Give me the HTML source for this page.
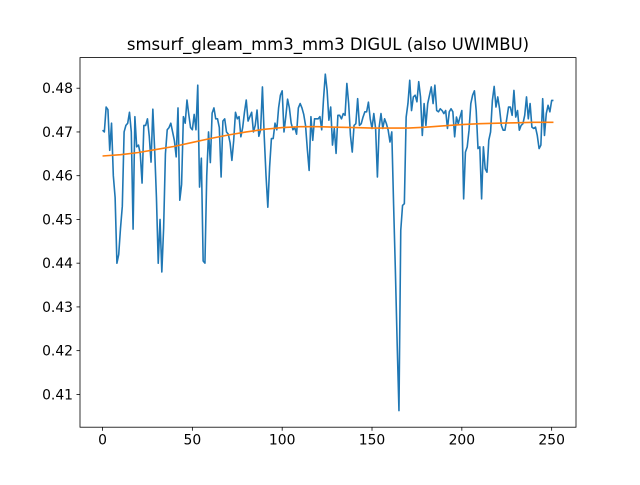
<!DOCTYPE html>
<html><head><meta charset="utf-8"><style>
body{margin:0;background:#fff;}
svg text{font-family:"DejaVu Sans","Liberation Sans",sans-serif;}
</style></head><body>
<svg id="chart" width="640" height="480" xmlns="http://www.w3.org/2000/svg">
<rect width="640" height="480" fill="#fff"/>
<text x="328" y="50" font-size="16.5" text-anchor="middle">smsurf_gleam_mm3_mm3 DIGUL (also UWIMBU)</text>
<g id="axes"></g>
</svg>
<script>
const values=[.4704,.4700,.4757,.4751,.4658,.4720,.4600,.4550,.4400,.4420,
.4480,.4530,.4700,.4715,.4720,.4745,.4700,.4478,.4735,.4666,
.4670,.4650,.4583,.4715,.4715,.4730,.4690,.4631,.4752,.4660,
.4550,.4400,.4500,.4380,.4480,.4650,.4705,.4710,.4720,.4700,
.4680,.4643,.4755,.4544,.4580,.4735,.4720,.4773,.4740,.4710,
.4705,.4740,.4705,.4807,.4574,.4640,.4405,.4400,.4600,.4700,
.4630,.4743,.4755,.4730,.4730,.4710,.4597,.4725,.4730,.4700,
.4695,.4675,.4635,.4680,.4745,.4730,.4735,.4689,.4710,.4745,
.4773,.4725,.4735,.4745,.4700,.4715,.4750,.4690,.4705,.4803,
.4690,.4600,.4528,.4620,.4685,.4685,.4720,.4705,.4755,.4784,
.4794,.4700,.4735,.4775,.4755,.4720,.4705,.4710,.4695,.4755,
.4765,.4755,.4740,.4715,.4660,.4612,.4735,.4681,.4730,.4730,
.4730,.4735,.4705,.4775,.4832,.4795,.4727,.4757,.4670,.4708,
.4651,.4738,.4738,.4730,.4742,.4738,.4811,.4765,.4692,.4654,
.4715,.4719,.4776,.4715,.4719,.4734,.4746,.4746,.4768,.4730,
.4708,.4742,.4708,.4597,.4712,.4742,.4708,.4730,.4719,.4704,
.4677,.4700,.4536,.4384,.4216,.4063,.4475,.4532,.4536,.4734,
.4765,.4818,.4749,.4780,.4784,.4769,.4815,.4780,.4692,.4765,
.4715,.4765,.4784,.4803,.4765,.4807,.4749,.4746,.4753,.4749,
.4742,.4749,.4708,.4746,.4753,.4746,.4689,.4734,.4719,.4734,
.4749,.4547,.4654,.4666,.4704,.4765,.4784,.4794,.4749,.4662,
.4666,.4547,.4666,.4616,.4608,.4681,.4700,.4772,.4804,.4757,
.4780,.4753,.4715,.4704,.4704,.4730,.4757,.4757,.4738,.4795,
.4734,.4749,.4704,.4715,.4719,.4738,.4780,.4730,.4765,.4711,
.4708,.4711,.4692,.4662,.4670,.4776,.4692,.4742,.4761,.4746,
.4772,.4772];
const trendX=[0,10,20,30,40,50,60,70,80,90,100,110,120,130,140,150,160,170,180,190,200,210,220,230,240,250,251];
const trendY=[.4645,.4648,.4653,.4660,.4667,.4676,.4685,.4693,.4700,.4706,.4710,.4712,.4712,.4711,.4710,.4709,.4709,.4709,.4711,.4714,.4717,.4719,.4720,.4721,.4722,.4722,.4722];
const xTicks=[0,50,100,150,200,250];
const yTicks=[0.41,0.42,0.43,0.44,0.45,0.46,0.47,0.48];

const L=80,R=576,T=57.6,B=427.2;
const xmin=-12.55,xmax=263.55,ymin=0.4025,ymax=0.4870;
const sx=v=>L+(v-xmin)/(xmax-xmin)*(R-L);
const sy=v=>B-(v-ymin)/(ymax-ymin)*(B-T);
const NS="http://www.w3.org/2000/svg";
const g=document.getElementById('axes');
function mk(t,a){const e=document.createElementNS(NS,t);for(const k in a)e.setAttribute(k,a[k]);g.appendChild(e);return e;}

const main=mk('polyline',{points:values.map((v,i)=>sx(i)+','+sy(v)).join(' '),fill:'none',stroke:'#1f77b4','stroke-width':1.6,'stroke-linejoin':'round'});


const tr=mk('polyline',{points:trendX.map((x,i)=>sx(x)+','+sy(trendY[i])).join(' '),fill:'none',stroke:'#ff7f0e','stroke-width':1.6});



const frame=mk('rect',{x:L,y:T,width:R-L,height:B-T,fill:'none',stroke:'#000','stroke-width':0.8});



xTicks.forEach(t=>{
  const x=sx(t);
  const tk=mk('line',{x1:x,x2:x,y1:B,y2:B+3.5,stroke:'#000','stroke-width':0.8});
  
  
  const lb=mk('text',{x:x,y:B+17.5,'font-size':13.9,'text-anchor':'middle'});
  lb.textContent=t;
  
  
});
yTicks.forEach(t=>{
  const y=sy(t);
  const tk=mk('line',{x1:L-3.5,x2:L,y1:y,y2:y,stroke:'#000','stroke-width':0.8});
  
  
  const lb=mk('text',{x:L-7,y:y+5,'font-size':13.9,'text-anchor':'end'});
  lb.textContent=t.toFixed(2);
  
  
});
</script>
</body></html>
